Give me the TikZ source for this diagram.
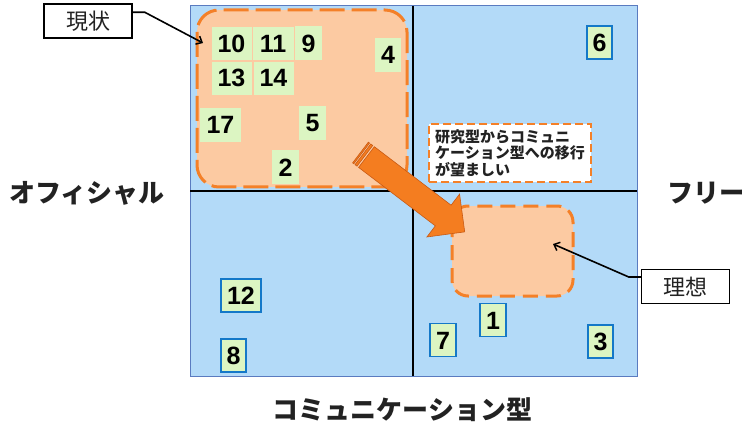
\documentclass[tikz,border=0pt]{standalone}
\usepackage{fontspec}
\setmainfont{Liberation Sans}
\newfontfamily\jp{Noto Sans CJK JP}
\usetikzlibrary{arrows.meta}
\definecolor{bgblue}{HTML}{B3DAF8}
\definecolor{frameblue}{HTML}{5A7BC0}
\definecolor{peach}{HTML}{FCCAA2}
\definecolor{dashorange}{HTML}{F48028}
\definecolor{arroworange}{HTML}{F47D20}
\definecolor{arrowedge}{HTML}{C85A14}
\definecolor{numgreen}{HTML}{DCF5C2}
\definecolor{boxblue}{HTML}{1478C8}
\definecolor{inkgray}{HTML}{222222}
\begin{document}
\begin{tikzpicture}[x=1pt,y=-1pt,
  num/.style={fill=numgreen, inner sep=0pt, minimum height=34pt, text height=18pt, text depth=0pt,
    font=\fontsize{25}{25}\selectfont\bfseries},
  numin/.style={num, draw=peach, line width=0.6pt},
  numb/.style={num, draw=boxblue, line width=1.8pt, minimum height=33pt},
  region/.style={fill=peach, draw=dashorange, line width=3pt},
  callout/.style={draw=black, line width=1.5pt, fill=white, inner sep=0pt, minimum width=88pt, minimum height=34pt,
    font=\jp\fontsize{22}{22}\selectfont, text=inkgray},
  conn/.style={draw=black, line width=1.6pt, -{Straight Barb[length=5pt,width=9pt,line width=1.5pt]}},
  axislabel/.style={inner sep=0pt, font=\jp\bfseries\fontsize{26}{26}\selectfont, text=inkgray},
  bigarrow/.style={fill=arroworange, draw=arrowedge, line width=0.6pt}
]
\useasboundingbox (0,0) rectangle (742,425);
% quadrants
\draw[fill=bgblue, draw=frameblue, line width=1pt] (190,6) rectangle (637,376);
\draw[black, line width=2pt] (190,191) -- (637,191);
\draw[black, line width=2pt] (413,6) -- (413,376);
% regions
\draw[region, rounded corners=22pt, dash pattern=on 25pt off 7pt] (197,10) rectangle (407,187);
\draw[region, rounded corners=16pt, dash pattern=on 15pt off 8pt] (452,206) rectangle (573,296);
% numbers inside current region
\node[numin, minimum width=41pt] (n10) at (231.5,43.5) {10};
\node[numin, minimum width=42pt] (n11) at (273,43.5) {11};
\node[num, minimum width=27pt] (n9) at (308.5,43.5) {9};
\node[numin, minimum width=41pt] (n13) at (231.5,78) {13};
\node[numin, minimum width=41pt] (n14) at (273.5,78) {14};
\node[num, minimum width=26pt] (n4) at (388,55) {4};
\node[num, minimum width=41pt] (n17) at (220.5,125) {17};
\node[num, minimum width=27pt] (n5) at (312.5,123) {5};
\node[num, minimum width=27pt] (n2) at (285.5,167) {2};
% numbers with blue border
\node[numb, minimum width=25pt] (n6) at (599.5,42.5) {6};
\node[numb, minimum width=40pt] (n12) at (241,295.5) {12};
\node[numb, minimum width=25pt] (n8) at (233.5,355.5) {8};
\node[numb, minimum width=26pt] (n7) at (443,340) {7};
\node[numb, minimum width=26pt] (n1) at (493,320) {1};
\node[numb, minimum width=25pt] (n3) at (600.5,341.5) {3};
% note box
\node[draw=dashorange, fill=white, line width=2pt, dash pattern=on 8pt off 4pt,
  anchor=north west, minimum width=162pt, minimum height=58pt, inner xsep=5pt, inner ysep=0pt,
  align=left, font=\jp\bfseries\fontsize{15}{16.5}\selectfont, text=inkgray] (note) at (428,123)
  {研究型からコミュニ\\ケーション型への移行\\が望ましい};
% big arrow
\begin{scope}[shift={(360.5,152.5)}, rotate=-37.3]
\filldraw[bigarrow] (0,-13) rectangle (1.5,13);
\filldraw[bigarrow] (3,-13) rectangle (5.5,13);
\filldraw[bigarrow] (7.5,-13) -- (104,-13) -- (104,-27) -- (131,0) -- (104,27) -- (104,13) -- (7.5,13) -- cycle;
\end{scope}
% callouts
\node[callout] (genjo) at (88,21) {現状};
\node[callout] (riso) at (685.5,286.5) {理想};
\coordinate (tipA) at (203,43);
\coordinate (tipB) at (553,244);
\draw[conn] ([yshift=-9pt]genjo.north east) -- ++(12,0) -- (tipA);
\draw[conn] ([yshift=9.5pt]riso.west) -- ++(-12,0) -- (tipB);
% axis labels
\node[axislabel, anchor=west] (official) at (9,193) {オフィシャル};
\node[axislabel, anchor=west] (free) at (667,193) {フリー};
\node[axislabel] (comm) at (402.5,410) {コミュニケーション型};
\end{tikzpicture}
\end{document}
